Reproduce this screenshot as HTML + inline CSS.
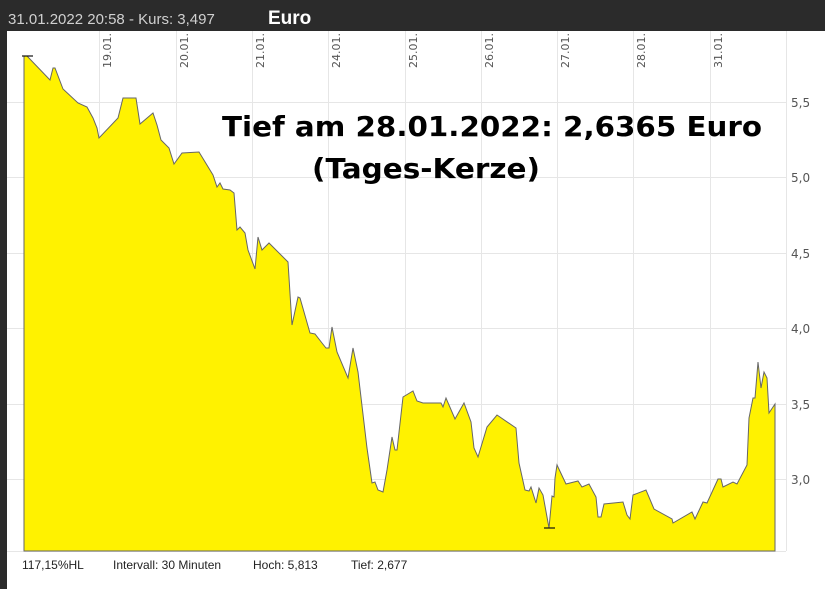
<!DOCTYPE html>
<html><head><meta charset="utf-8"><style>
body{margin:0;width:825px;height:589px;overflow:hidden;background:#fff;font-family:"Liberation Sans",sans-serif}
</style></head><body>
<svg width="825" height="589" xmlns="http://www.w3.org/2000/svg">
<rect x="0" y="0" width="825" height="589" fill="#fff"/>
<rect x="0" y="0" width="825" height="31" fill="#2b2b2b"/>
<rect x="0" y="0" width="7" height="589" fill="#2b2b2b"/>
<text x="8" y="24" font-size="15" fill="#d0d0d0" font-family="Liberation Sans Narrow, Liberation Sans, sans-serif">31.01.2022  20:58  - Kurs: 3,497</text>
<text x="268" y="24" font-size="19" font-weight="bold" fill="#fff" font-family="Liberation Sans Narrow, Liberation Sans, sans-serif">Euro</text>
<g stroke="#e6e6e6" stroke-width="1">
<line x1="99.5" y1="31" x2="99.5" y2="551"/><line x1="176.5" y1="31" x2="176.5" y2="551"/><line x1="252.5" y1="31" x2="252.5" y2="551"/><line x1="328.5" y1="31" x2="328.5" y2="551"/><line x1="405.5" y1="31" x2="405.5" y2="551"/><line x1="481.5" y1="31" x2="481.5" y2="551"/><line x1="557.5" y1="31" x2="557.5" y2="551"/><line x1="633.5" y1="31" x2="633.5" y2="551"/><line x1="710.5" y1="31" x2="710.5" y2="551"/>
<line x1="7" y1="102.5" x2="786" y2="102.5"/><line x1="7" y1="177.5" x2="786" y2="177.5"/><line x1="7" y1="253.5" x2="786" y2="253.5"/><line x1="7" y1="328.5" x2="786" y2="328.5"/><line x1="7" y1="404.5" x2="786" y2="404.5"/><line x1="7" y1="479.5" x2="786" y2="479.5"/>
<line x1="786.5" y1="31" x2="786.5" y2="551"/><line x1="7" y1="551.5" x2="786" y2="551.5"/>
</g>
<path fill="#fff200" stroke="#666" stroke-width="1" d="M24,551 L24,56 L27,56 L50,80 L53,68 L55,68 L63,89 L78,103 L87,107 L93,118 L97,128 L99,138 L118,118 L123,98 L136,98 L140,124 L153,113 L157,125 L161,140 L169,148 L174,164 L182,153 L199,152 L213,175 L217,187 L220,183 L223,189 L230,190 L234,193 L237,230 L240,227 L245,233 L248,250 L255,269 L258,237 L262,250 L269,243 L288,262 L292,325 L298,297 L300,298 L310,333 L315,334 L322,343 L326,348 L329,348 L332,327 L337,352 L348,378 L353,348 L358,372 L367,448 L372,483 L375,482 L378,490 L383,492 L387,470 L392,437 L395,450 L397,450 L403,397 L413,391 L417,401 L423,403 L441,403 L443,407 L446,398 L455,419 L464,403 L471,422 L474,448 L478,457 L487,427 L497,415 L516,428 L519,463 L525,490 L529,491 L531,487 L536,503 L539,488 L543,495 L549,528 L552,496 L554,497 L555,478 L557,465 L566,484 L578,481 L582,487 L589,484 L596,497 L598,517 L601,517 L604,504 L623,502 L627,515 L630,519 L633,495 L646,490 L654,509 L672,519 L673,523 L692,512 L695,519 L703,502 L707,503 L718,479 L721,479 L723,487 L733,482 L737,484 L747,465 L749,418 L753,398 L755,398 L758,362 L761,388 L764,372 L767,378 L769,413 L775,404 L775,551 Z"/>
<line x1="22" y1="56" x2="33" y2="56" stroke="#111" stroke-width="1.2"/>
<line x1="544" y1="528" x2="555" y2="528" stroke="#111" stroke-width="1.2"/>
<g font-size="11" fill="#555" font-family="DejaVu Sans, sans-serif">
<text transform="translate(111,68) rotate(-90)">19.01.</text>
<text transform="translate(188,68) rotate(-90)">20.01.</text>
<text transform="translate(264,68) rotate(-90)">21.01.</text>
<text transform="translate(340,68) rotate(-90)">24.01.</text>
<text transform="translate(417,68) rotate(-90)">25.01.</text>
<text transform="translate(493,68) rotate(-90)">26.01.</text>
<text transform="translate(569,68) rotate(-90)">27.01.</text>
<text transform="translate(645,68) rotate(-90)">28.01.</text>
<text transform="translate(722,68) rotate(-90)">31.01.</text>
</g>
<g font-size="12" fill="#555" font-family="DejaVu Sans, sans-serif">
<text x="791" y="107">5,5</text><text x="791" y="182">5,0</text><text x="791" y="258">4,5</text><text x="791" y="333">4,0</text><text x="791" y="409">3,5</text><text x="791" y="484">3,0</text>
</g>
<text x="222" y="136" font-size="28" font-weight="bold" fill="#000" font-family="DejaVu Sans, sans-serif" textLength="540" lengthAdjust="spacingAndGlyphs">Tief am 28.01.2022: 2,6365 Euro</text>
<text x="312" y="178" font-size="28" font-weight="bold" fill="#000" font-family="DejaVu Sans, sans-serif" textLength="228" lengthAdjust="spacingAndGlyphs">(Tages-Kerze)</text>
<g font-size="12" fill="#222" font-family="Liberation Sans Narrow, Liberation Sans, sans-serif">
<text x="22" y="569">117,15%HL</text>
<text x="113" y="569">Intervall: 30 Minuten</text>
<text x="253" y="569">Hoch:  5,813</text>
<text x="351" y="569">Tief:  2,677</text>
</g>
</svg>
</body></html>
